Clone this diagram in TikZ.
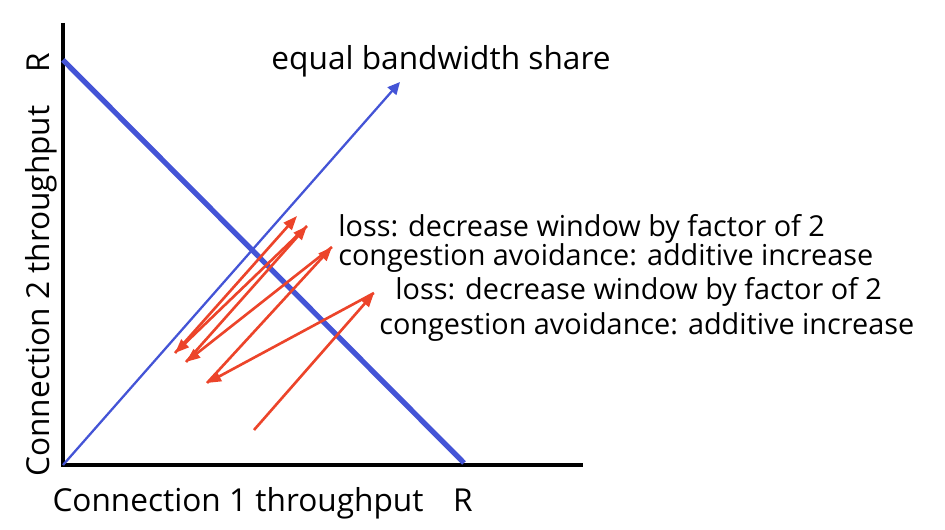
\documentclass[tikz,border=0pt]{standalone}
\usepackage{fontspec}
\setmainfont{Open Sans}
\usetikzlibrary{arrows.meta}
\definecolor{lineblue}{RGB}{68,84,214}
\definecolor{aimdred}{RGB}{236,68,42}
\begin{document}
\begin{tikzpicture}[
    axis/.style={line width=2.8pt},
    fairline/.style={lineblue,line width=3pt},
    shareline/.style={lineblue,line width=1.3pt,-{Triangle[length=7pt,width=6.5pt]}},
    win/.style={aimdred,line width=1.5pt,-{Triangle[length=8pt,width=6pt]}},
    lbl/.style={font=\fontsize{18}{21}\selectfont,inner sep=0pt,anchor=base},
    note/.style={font=\fontsize{16.4}{19}\selectfont,inner sep=0pt,anchor=base west}]
    \useasboundingbox (0,0) rectangle (18.9,10.6);

    % axes
    \coordinate (o) at (1.26,1.30);
    \coordinate (ytop) at (1.26,10.14);
    \coordinate (xend) at (11.66,1.30);
    \draw[axis] (ytop) -- (o) -- (xend);

    \node[lbl,rotate=90] (ylab) at (1.0,4.78){Connection 2 throughput};
    \node[lbl,rotate=90] (ry) at (1.0,9.34){R};
    \node[lbl] (xlab) at (4.76,0.36){Connection 1 throughput};
    \node[lbl] (rx) at (9.26,0.36){R};

    % full utilization and fairness lines
    \coordinate (fa) at (1.26,9.40);
    \coordinate (fb) at (9.28,1.34);
    \draw[fairline] (fa) -- (fb);
    \coordinate (eq) at (8.0,8.96);
    \draw[shareline] (o) -- (eq);
    \node[lbl] (share) at (8.82,9.20){equal bandwidth share};

    % AIMD path
    \coordinate (p0) at (5.08,2.00);
    \coordinate (p1) at (7.48,4.74);
    \coordinate (p2) at (4.14,2.94);
    \coordinate (p3) at (6.64,5.66);
    \coordinate (p4) at (3.72,3.36);
    \coordinate (p5) at (6.14,6.08);
    \coordinate (p6) at (3.50,3.54);
    \coordinate (p7) at (5.94,6.28);
    \draw[win] (p0) -- (p1);
    \draw[win] (p1) -- (p2);
    \draw[win] (p2) -- (p3);
    \draw[win] (p3) -- (p4);
    \draw[win] (p4) -- (p5);
    \draw[win] (p5) -- (p6);
    \draw[win] (p6) -- (p7);

    \node[note] (loss1) at (6.76,5.86){loss: decrease window by factor of 2};
    \node[note] (ca1) at (6.76,5.28){congestion avoidance: additive increase};
    \node[note] (loss2) at (7.90,4.60){loss: decrease window by factor of 2};
    \node[note] (ca2) at (7.58,3.90){congestion avoidance: additive increase};
\end{tikzpicture}
\end{document}
